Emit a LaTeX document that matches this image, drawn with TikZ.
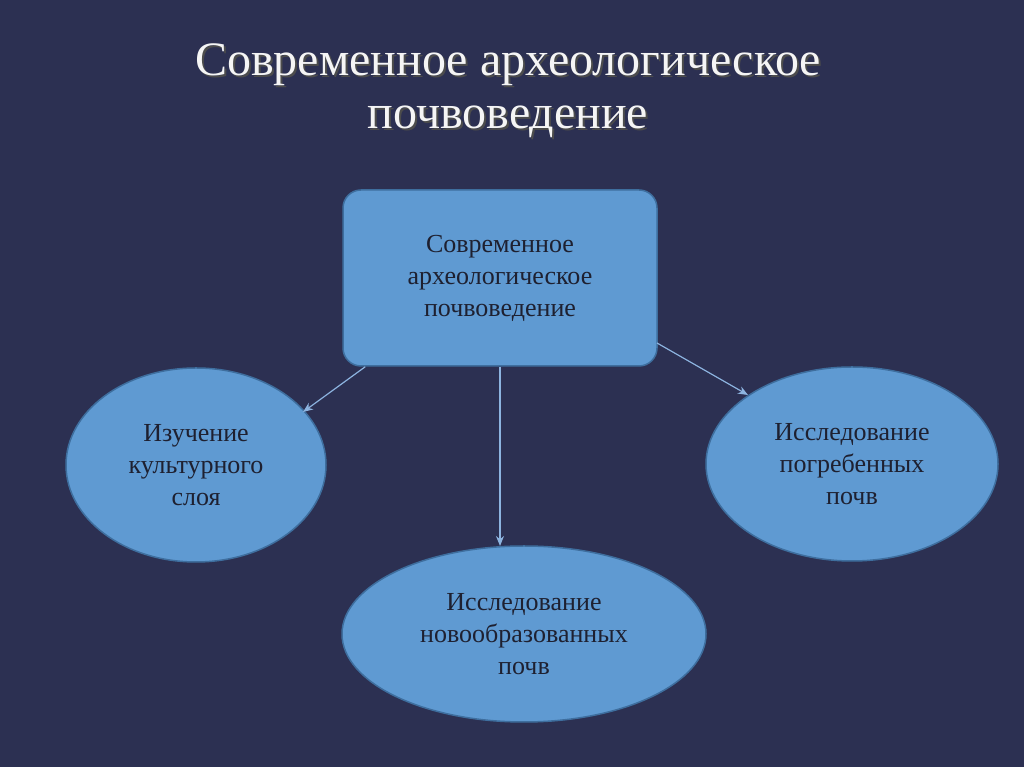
\documentclass[tikz,border=0pt]{standalone}
\usepackage{fontspec}
\setmainfont{Liberation Serif}
\usetikzlibrary{shapes.geometric,arrows.meta}
\definecolor{bg}{HTML}{2C3052}
\definecolor{boxfill}{HTML}{5F9AD2}
\definecolor{boxline}{HTML}{3E6E9E}
\definecolor{txt}{HTML}{1E2030}
\definecolor{arr}{HTML}{8DB4E0}
\tikzset{
  lbl/.style={align=center,text=txt,font=\fontsize{26}{32}\selectfont},
  ell/.style={ellipse,draw=boxline,line width=1.5pt,fill=boxfill,inner sep=0pt},
  conn/.style={draw=arr,line width=1.2pt,-{Stealth[length=10pt,width=8pt]}}
}
\begin{document}
\begin{tikzpicture}[x=1pt,y=1pt]
\fill[bg] (0,0) rectangle (1024,767);
\useasboundingbox (0,0) rectangle (1024,767);
\node[align=center,text=black!70,font=\fontsize{48}{53}\selectfont] at (510,674) {Современное археологическое\\почвоведение};
\node (title) [align=center,text=white!92!gray,font=\fontsize{48}{53}\selectfont] at (508,676) {Современное археологическое\\почвоведение};
\node (top) [draw=boxline,line width=1.5pt,fill=boxfill,rounded corners=18pt,minimum width=314pt,minimum height=176pt,lbl] at (500,489) {Современное\\археологическое\\почвоведение};
\node (left) [ell,minimum width=260pt,minimum height=194pt,lbl] at (196,302) {Изучение\\культурного\\слоя};
\node (right) [ell,minimum width=292pt,minimum height=194pt,lbl] at (852,303) {Исследование\\погребенных\\почв};
\node (bot) [ell,minimum width=364pt,minimum height=176pt,lbl] at (524,133) {Исследование\\новообразованных\\почв};
\coordinate (bt) at (500,221);
\draw[conn] (top.south west) ++(23,0) -- (303,355);
\draw[conn] (top.south) -- (bt);
\draw[conn] (657,424) -- (748,372);
\end{tikzpicture}
\end{document}
